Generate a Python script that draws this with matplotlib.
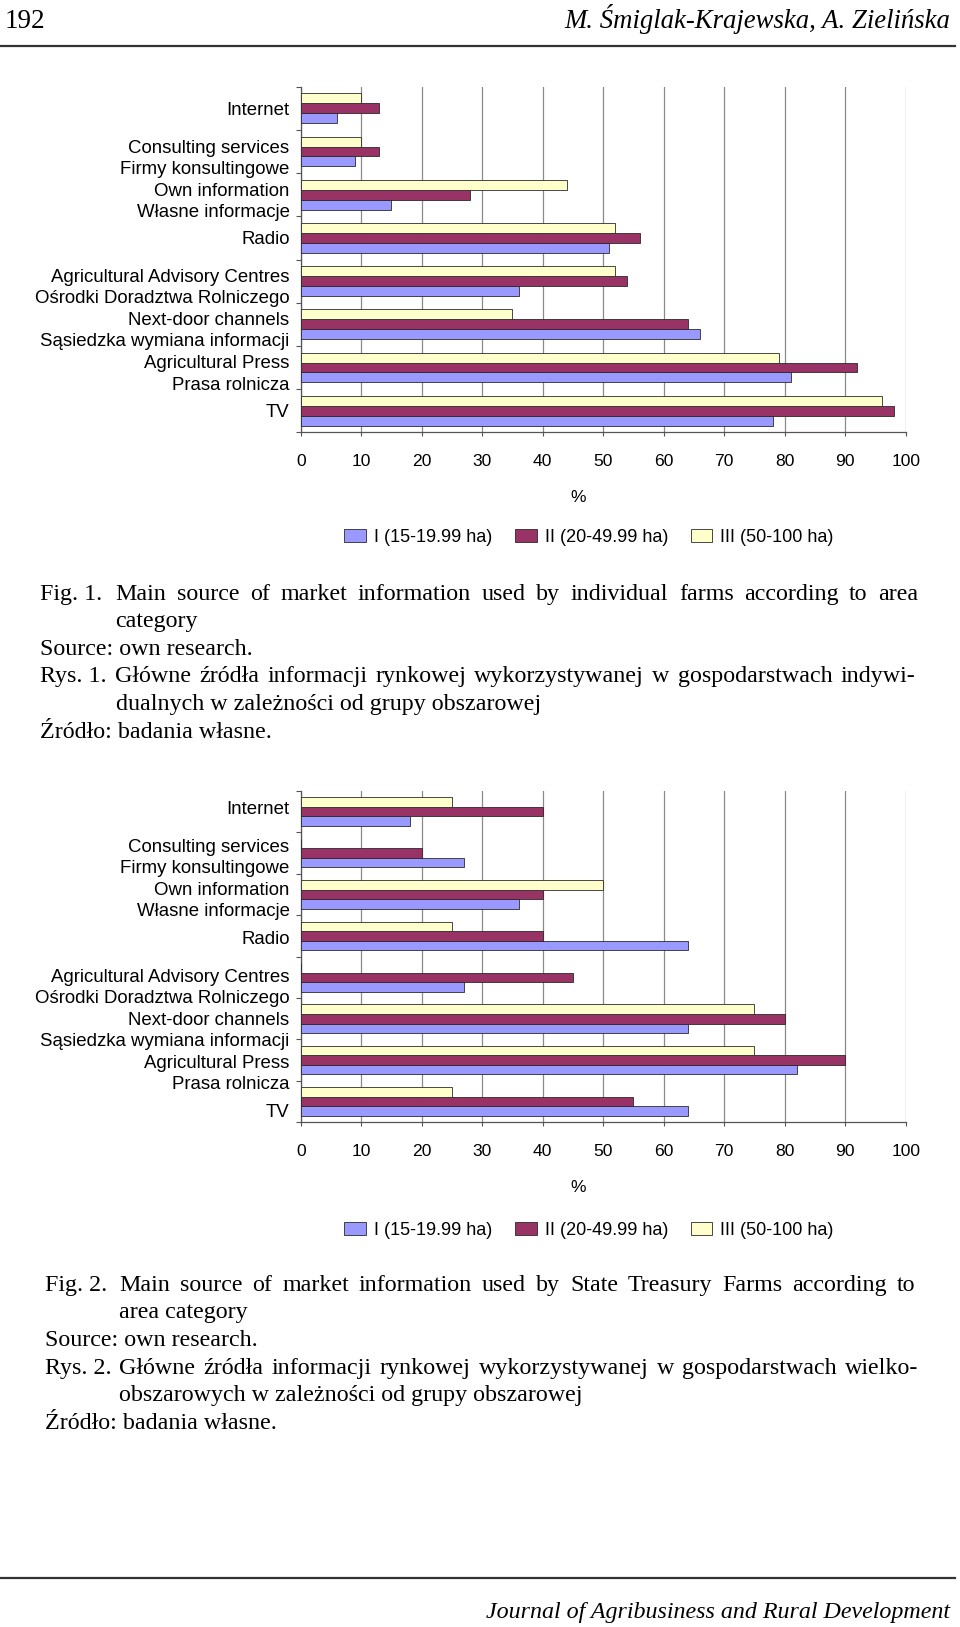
import matplotlib
matplotlib.use("Agg")
import matplotlib.pyplot as plt
import matplotlib.transforms as mtransforms
from matplotlib.lines import Line2D
import numpy as np

# ---------------- data ----------------
categories = [
    "Internet",
    "Consulting services\nFirmy konsultingowe",
    "Own information\nWłasne informacje",
    "Radio",
    "Agricultural Advisory Centres\nOśrodki Doradztwa Rolniczego",
    "Next-door channels\nSąsiedzka wymiana informacji",
    "Agricultural Press\nPrasa rolnicza",
    "TV",
]
series_labels = ["I (15-19.99 ha)", "II (20-49.99 ha)", "III (50-100 ha)"]

fig1_I = [6, 9, 15, 51, 36, 66, 81, 78]
fig1_II = [13, 13, 28, 56, 54, 64, 92, 98]
fig1_III = [10, 10, 44, 52, 52, 35, 79, 96]

fig2_I = [18, 27, 36, 64, 27, 64, 82, 64]
fig2_II = [40, 20, 40, 40, 45, 80, 90, 55]
fig2_III = [25, 0, 50, 25, 0, 75, 75, 25]

x_ticks = list(range(0, 101, 10))
x_label = "%"

caption1 = [
    ("Fig. 1.", "Main source of market information used by individual farms according to area", True),
    (None, "category", False),
    ("Source: own research.", None, False),
    ("Rys. 1.", "Główne źródła informacji rynkowej wykorzystywanej w gospodarstwach indywi-", True),
    (None, "dualnych w zależności od grupy obszarowej", False),
    ("Źródło: badania własne.", None, False),
]
caption2 = [
    ("Fig. 2.", "Main source of market information used by State Treasury Farms according to", True),
    (None, "area category", False),
    ("Source: own research.", None, False),
    ("Rys. 2.", "Główne źródła informacji rynkowej wykorzystywanej w gospodarstwach wielko-", True),
    (None, "obszarowych w zależności od grupy obszarowej", False),
    ("Źródło: badania własne.", None, False),
]

colors = ["#9999FF", "#993366", "#FFFFCC"]

# ---------------- figure ----------------
W, H = 960, 1627
fig = plt.figure(figsize=(W / 100, H / 100), dpi=100)
fig.patch.set_facecolor("white")
SANS = "Liberation Sans"
SERIF = "Liberation Serif"


def fx(x):
    return x / W


def fy(y):
    return 1 - y / H


def make_chart(rect, vals, legend_y, label_band):
    left, top, right, bottom = rect
    ax = fig.add_axes([fx(left), fy(bottom), fx(right) - fx(left), (bottom - top) / H])
    n = len(categories)
    idx = np.arange(n)
    h = 0.23
    # order within a category (top to bottom): III, II, I
    offsets = [h, 0.0, -h]
    handles = []
    for s, (v, off) in enumerate(zip(vals, offsets)):
        b = ax.barh(idx + off, v, height=h, color=colors[s], edgecolor="#2a2a2a",
                    linewidth=0.6, label=series_labels[s], zorder=3)
        handles.append(b)
    ax.set_ylim(n - 0.5, -0.5)
    ax.set_xlim(0, 100)
    ax.set_xticks(x_ticks)
    ax.set_xticklabels([str(t) for t in x_ticks], fontsize=12.6, family=SANS)
    ax.set_yticks(idx)
    ax.set_yticklabels(categories, fontsize=13.4, family=SANS, linespacing=1.32)
    ax.set_yticks(np.arange(-0.5, n, 1.0), minor=True)
    ax.tick_params(axis="y", which="major", length=0, pad=8.0)
    ax.tick_params(axis="y", which="minor", length=3.6, width=0.8, color="#555555", direction="out")
    ax.tick_params(axis="x", which="major", length=3.2, width=0.8, color="#555555",
                   direction="out", pad=12.3)
    ax.grid(axis="x", color="#8a8a8a", linewidth=0.9, zorder=0)
    ax.set_axisbelow(True)
    for sp in ["top", "right"]:
        ax.spines[sp].set_visible(False)
    for sp in ["left", "bottom"]:
        ax.spines[sp].set_color("#555555")
        ax.spines[sp].set_linewidth(0.9)
    # category labels are laid out over their own band (as in the original
    # chart); two-line labels sit slightly lower
    lt, lb = label_band
    for i, lab in enumerate(ax.get_yticklabels()):
        plot_c = top + (i + 0.5) * (bottom - top) / n
        lab_c = lt + (i + 0.5) * (lb - lt) / n
        dy = lab_c - plot_c + (3.0 if "\n" in lab.get_text() else 0.0)
        lab.set_transform(lab.get_transform() +
                          mtransforms.ScaledTranslation(0, -dy / 100, fig.dpi_scale_trans))
    ax.set_xlabel(x_label, fontsize=12.6, family=SANS)
    ax.xaxis.set_label_coords(0.458, -(497 - 432.3 - 6.5) / (bottom - top))
    ax.legend(handles, series_labels, loc="center", ncol=3, frameon=False,
              bbox_to_anchor=(fx(589), fy(legend_y)), bbox_transform=fig.transFigure,
              prop={"family": SANS, "size": 13.0}, handlelength=1.2, handleheight=0.7,
              handletextpad=0.45, columnspacing=1.25, borderpad=0, borderaxespad=0)
    return ax


make_chart((300.7, 86.7, 905.7, 432.3), [fig1_I, fig1_II, fig1_III], 537.5,
           (86.7, 432.3))
make_chart((300.7, 791.0, 905.7, 1122.3), [fig2_I, fig2_II, fig2_III], 1230.5,
           (86.7 + 699.5, 432.3 + 699.5))

# ---------------- captions ----------------
renderer = fig.canvas.get_renderer()
CAP_SIZE = 17.3


def put_line(text, x0, y, x1=None):
    kw = dict(family=SERIF, fontsize=CAP_SIZE, va="baseline", ha="left")
    if x1 is None:
        fig.text(fx(x0), fy(y), text, **kw)
        return
    words = text.split(" ")
    objs = [fig.text(0, 0, w, **kw) for w in words]
    widths = [o.get_window_extent(renderer).width for o in objs]
    gap = (x1 - x0 - sum(widths)) / (len(words) - 1)
    x = x0
    for o, w in zip(objs, widths):
        o.set_position((fx(x), fy(y)))
        x += w + gap


def caption(lines, x_lab, x_ind, y0, right_edges):
    for k, (lab, body, just) in enumerate(lines):
        y = y0 + k * 27.6 + 7.0
        if lab is not None:
            put_line(lab, x_lab, y)
        if body is not None:
            put_line(body, x_ind, y, right_edges[k] if just else None)


caption(caption1, 40.5, 115.5, 592.6, {0: 918.5, 3: 915.0})
caption(caption2, 44.6, 119.3, 1283.8, {0: 915.3, 3: 918.5})

# ---------------- page header / footer ----------------
fig.text(fx(5), fy(28.5), "192", family=SERIF, fontsize=19.5, va="baseline", ha="left")
fig.text(fx(950.6), fy(28.5), "M. Śmiglak-Krajewska, A. Zielińska", family=SERIF,
         style="italic", fontsize=19.3, va="baseline", ha="right")
fig.add_artist(Line2D([0, fx(955)], [fy(45.5), fy(45.5)], transform=fig.transFigure,
                      color="#333333", linewidth=1.6))
fig.add_artist(Line2D([0, fx(955)], [fy(1578.3), fy(1578.3)], transform=fig.transFigure,
                      color="#333333", linewidth=1.6))
fig.text(fx(950), fy(1618.3), "Journal of Agribusiness and Rural Development", family=SERIF,
         style="italic", fontsize=17.3, va="baseline", ha="right")

fig.savefig("out.png", dpi=100, facecolor="white")
